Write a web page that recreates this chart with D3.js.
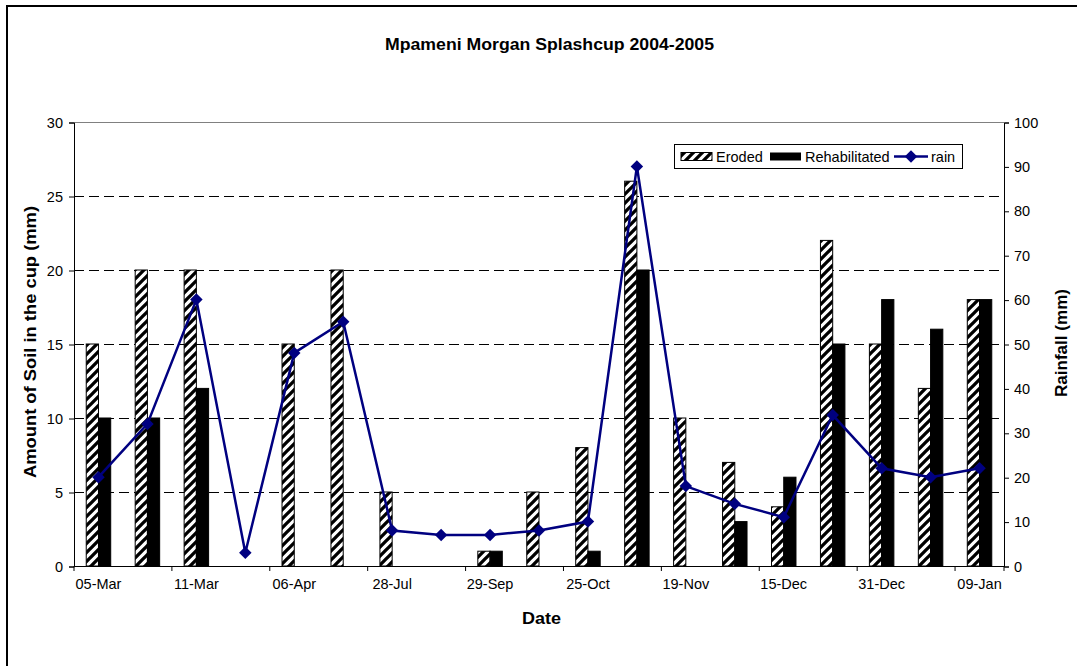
<!DOCTYPE html>
<html><head><meta charset="utf-8">
<script src="https://cdn.jsdelivr.net/npm/d3@7"></script>
<style>
body{margin:0;background:#fff;}
text{font-family:"Liberation Sans",Arial,sans-serif;fill:#000;}
</style></head>
<body><svg id="c" width="1077" height="666"></svg>
<script>
const dateLabels = ["05-Mar","","11-Mar","","06-Apr","","28-Jul","","29-Sep","","25-Oct","","19-Nov","","15-Dec","","31-Dec","","09-Jan"];
const eroded = [15,20,20,0,15,20,5,0,1,5,8,26,10,7,4,22,15,12,18];
const rehabilitated = [10,10,12,0,0,0,0,0,1,0,1,20,0,3,6,15,18,16,18];
const rain = [20,32,60,3,48,55,8,7,7,8,10,90,18,14,11,34,22,20,22];
const leftTicks = [0,5,10,15,20,25,30];
const rightTicks = [0,10,20,30,40,50,60,70,80,90,100];

const svg = d3.select("#c");
const L=74, R=1004, T=122, B=566;
const idx = d3.range(dateLabels.length);
const x = d3.scaleBand().domain(idx).range([L,R]).paddingInner(0).paddingOuter(0);
const yL = d3.scaleLinear().domain([0,30]).range([B,T]);
const yR = d3.scaleLinear().domain([0,100]).range([B,T]);

// pattern
const defs = svg.append("defs");
const p = defs.append("pattern").attr("id","hatch").attr("patternUnits","userSpaceOnUse")
  .attr("width",9).attr("height",9);
p.append("rect").attr("width",9).attr("height",9).attr("fill","#fff");
p.append("path").attr("d","M-2,11 L11,-2 M-6.5,6.5 L6.5,-6.5 M2.5,15.5 L15.5,2.5")
  .attr("stroke","#000").attr("stroke-width",3.3);

// outer border
svg.append("rect").attr("x",7).attr("y",6).attr("width",1090).attr("height",700)
  .attr("fill","none").attr("stroke","#000").attr("stroke-width",2);

// gridlines
svg.append("g").selectAll("line").data(leftTicks.filter(d=>d>0 && d<30)).join("line")
  .attr("x1",L).attr("x2",R).attr("y1",d=>yL(d)+0.5).attr("y2",d=>yL(d)+0.5)
  .attr("stroke","#000").attr("stroke-width",1).attr("stroke-dasharray","10,5");
// plot top border
svg.append("line").attr("x1",L).attr("x2",R).attr("y1",T+0.5).attr("y2",T+0.5).attr("stroke","#808080");

// bars
const bw = x.bandwidth()*0.25;
const g = svg.append("g");
g.selectAll("rect.er").data(idx.filter(i=>eroded[i]>0)).join("rect").attr("class","er")
  .attr("x",i=>x(i)+x.bandwidth()/2-bw).attr("width",bw)
  .attr("y",i=>yL(eroded[i])).attr("height",i=>B-yL(eroded[i]))
  .attr("fill","url(#hatch)").attr("stroke","#000").attr("stroke-width",1);
g.selectAll("rect.rh").data(idx.filter(i=>rehabilitated[i]>0)).join("rect").attr("class","rh")
  .attr("x",i=>x(i)+x.bandwidth()/2).attr("width",bw)
  .attr("y",i=>yL(rehabilitated[i])).attr("height",i=>B-yL(rehabilitated[i]))
  .attr("fill","#000").attr("stroke","#000").attr("stroke-width",1);

// axes
const axL = d3.axisLeft(yL).tickValues(leftTicks).tickSize(5).tickPadding(6);
const gL = svg.append("g").attr("transform",`translate(${L},0.5)`).call(axL);
const axR = d3.axisRight(yR).tickValues(rightTicks).tickSize(5).tickPadding(5);
const gR = svg.append("g").attr("transform",`translate(${R},0.5)`).call(axR);
const axB = d3.axisBottom(x).tickSize(0).tickFormat(i=>dateLabels[i]).tickPadding(13);
const gB = svg.append("g").attr("transform",`translate(0,${B})`).call(axB);
[gL,gR,gB].forEach(a=>{
  a.select(".domain").attr("stroke","#000").attr("stroke-width",1);
  a.selectAll(".tick line").attr("stroke","#000");
  a.selectAll("text").attr("font-size",14.5).attr("font-family","Liberation Sans, Arial, sans-serif").attr("fill","#000");
});
gB.selectAll(".tick").filter(i=>dateLabels[i]==="").remove();
gB.select(".domain").attr("d",`M${L},0.5H${R}`);
// category-boundary tick marks every two categories
const bt = idx.filter(i=>i%2===0).map(i=>x(i)).concat([R]);
gB.selectAll("line.bt").data(bt).join("line").attr("class","bt")
  .attr("x1",d=>d).attr("x2",d=>d).attr("y1",0).attr("y2",5).attr("stroke","#000");

// rain line
const line = d3.line().x(i=>x(i)+x.bandwidth()/2).y(i=>yR(rain[i]));
svg.append("path").datum(idx).attr("d",line).attr("fill","none")
  .attr("stroke","#000080").attr("stroke-width",2.5);
const sym = d3.symbol().type(d3.symbolSquare).size(78);
svg.append("g").selectAll("path").data(idx).join("path")
  .attr("d",sym).attr("fill","#000080")
  .attr("transform",i=>`translate(${x(i)+x.bandwidth()/2},${yR(rain[i])}) rotate(45)`);

// titles
svg.append("text").attr("x",549.5).attr("y",50).attr("text-anchor","middle")
  .attr("font-size",17).attr("font-weight","bold").attr("textLength",329).attr("lengthAdjust","spacingAndGlyphs")
  .text("Mpameni Morgan Splashcup 2004-2005");
svg.append("text").attr("x",541.5).attr("y",624).attr("text-anchor","middle")
  .attr("font-size",17).attr("font-weight","bold").attr("textLength",39).attr("lengthAdjust","spacingAndGlyphs")
  .text("Date");
svg.append("text").attr("transform","translate(36,342) rotate(-90)").attr("text-anchor","middle")
  .attr("font-size",17).attr("font-weight","bold").attr("textLength",272).attr("lengthAdjust","spacingAndGlyphs")
  .text("Amount of Soil in the cup (mm)");
svg.append("text").attr("transform","translate(1067,343) rotate(-90)").attr("text-anchor","middle")
  .attr("font-size",17).attr("font-weight","bold").attr("textLength",108).attr("lengthAdjust","spacingAndGlyphs")
  .text("Rainfall (mm)");

// legend
const lg = svg.append("g");
lg.append("rect").attr("x",674.5).attr("y",144.5).attr("width",288).attr("height",24)
  .attr("fill","#fff").attr("stroke","#000").attr("stroke-width",1);
lg.append("rect").attr("x",681).attr("y",152.5).attr("width",31).attr("height",8)
  .attr("fill","url(#hatch)").attr("stroke","#000");
lg.append("text").attr("x",716).attr("y",161.5).attr("font-size",14.5).text("Eroded");
lg.append("rect").attr("x",770).attr("y",152.5).attr("width",31).attr("height",8).attr("fill","#000");
lg.append("text").attr("x",805).attr("y",161.5).attr("font-size",14.5).text("Rehabilitated");
lg.append("line").attr("x1",894).attr("x2",928).attr("y1",156.5).attr("y2",156.5)
  .attr("stroke","#000080").attr("stroke-width",2.5);
lg.append("path").attr("d",sym).attr("fill","#000080").attr("transform","translate(911,156.5) rotate(45)");
lg.append("text").attr("x",931).attr("y",161.5).attr("font-size",14.5).text("rain");
</script></body></html>
